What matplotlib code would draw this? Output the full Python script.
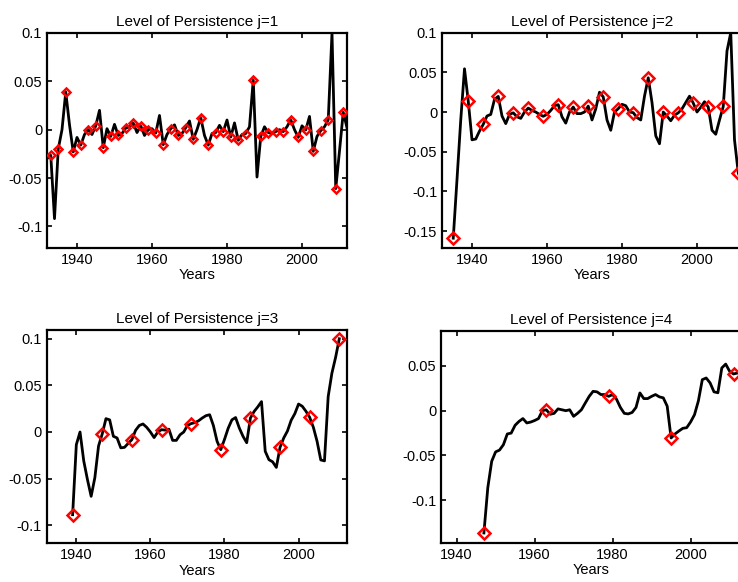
import numpy as np
import matplotlib
matplotlib.use("Agg")
import matplotlib.pyplot as plt

# ---------------- data ----------------
years1 = list(range(1932, 2013))
vals1 = [-0.030, -0.0265, -0.092, -0.020, 0.000, 0.039, 0.005, -0.023, -0.008, -0.016,
         -0.005, 0.000, -0.005, 0.004, 0.020, -0.0186, 0.001, -0.007, 0.0055, -0.006,
         -0.004, 0.0017, 0.003, 0.0068, -0.003, 0.004, -0.006, 0.000, 0.001, -0.0035,
         0.0147, -0.0155, -0.005, 0.001, 0.005, -0.006, -0.004, 0.002, 0.009, -0.010,
         0.000, 0.0124, -0.006, -0.016, -0.004, -0.003, 0.0045, -0.002, 0.010, -0.0076,
         0.007, -0.011, -0.005, -0.004, 0.003, 0.0515, -0.049, -0.007, 0.003, -0.003,
         -0.004, -0.002, 0.000, -0.002, 0.003, 0.0103, 0.000, -0.008, 0.004, -0.0003,
         0.0137, -0.0224, -0.007, -0.001, 0.003, 0.0103, 0.100, -0.061, -0.022, 0.018,
         0.002]

years2 = list(range(1935, 2013))
vals2 = [-0.159, -0.085, -0.010, 0.0545, 0.0138, -0.035, -0.034, -0.024, -0.0155, -0.005,
         -0.003, 0.016, 0.0197, -0.005, -0.0146, -0.003, -0.001, -0.006, -0.008, 0.000,
         0.005, 0.002, 0.000, -0.003, -0.0054, -0.003, 0.002, 0.008, 0.0093, -0.006,
         -0.014, 0.000, 0.0063, -0.002, -0.002, 0.000, 0.0075, -0.010, 0.004, 0.025,
         0.019, -0.010, -0.023, 0.000, 0.0043, 0.0097, 0.008, 0.000, -0.0008, -0.007,
         -0.010, 0.020, 0.0432, 0.012, -0.030, -0.040, 0.000, -0.005, -0.011, -0.004,
         -0.001, 0.004, 0.012, 0.020, 0.0113, 0.000, 0.006, 0.013, 0.0063, -0.023,
         -0.028, -0.010, 0.007, 0.077, 0.100, -0.035, -0.0766, -0.090]

years3 = list(range(1939, 2012))
vals3 = [-0.0887, -0.0136, 0.000, -0.031, -0.051, -0.069, -0.049, -0.015, -0.002, 0.0143,
         0.013, -0.0046, -0.0064, -0.017, -0.0165, -0.0122, -0.0082, 0.0018, 0.007, 0.0086,
         0.005, 0.000, -0.006, 0.000, 0.0025, 0.002, 0.003, -0.009, -0.009, -0.003,
         0.000, 0.007, 0.009, 0.010, 0.012, 0.015, 0.0175, 0.0185, 0.007, -0.010,
         -0.019, -0.008, 0.004, 0.013, 0.0155, 0.0043, -0.0046, -0.0115, 0.015, 0.022,
         0.027, 0.0326, -0.0207, -0.0297, -0.032, -0.038, -0.0165, -0.0064, 0.001, 0.0125,
         0.0197, 0.030, 0.0276, 0.0222, 0.0158, 0.005, -0.010, -0.030, -0.031, 0.038,
         0.063, 0.080, 0.100]

years4 = list(range(1947, 2013))
vals4 = [-0.1365, -0.086, -0.0565, -0.046, -0.044, -0.038, -0.026, -0.025, -0.0163, -0.012,
         -0.0088, -0.0137, -0.0127, -0.011, -0.0088, 0.000, 0.001, -0.004, -0.003, 0.002,
         0.001, 0.000, 0.001, -0.0063, -0.003, 0.001, 0.0086, 0.016, 0.0216, 0.021,
         0.018, 0.018, 0.016, 0.018, 0.0128, 0.0036, -0.003, -0.0036, -0.002, 0.0036,
         0.0198, 0.0135, 0.0135, 0.016, 0.018, 0.0154, 0.0143, 0.005, -0.0305, -0.026,
         -0.0227, -0.0197, -0.019, -0.0126, -0.0045, 0.011, 0.0346, 0.0365, 0.031, 0.021,
         0.020, 0.0477, 0.052, 0.044, 0.041, 0.042]

titles = ["Level of Persistence j=1", "Level of Persistence j=2",
          "Level of Persistence j=3", "Level of Persistence j=4"]
xticks = [1940, 1960, 1980, 2000]
yticks1 = [-0.1, -0.05, 0, 0.05, 0.1]
yticks2 = [-0.15, -0.1, -0.05, 0, 0.05, 0.1]
yticks3 = [-0.1, -0.05, 0, 0.05, 0.1]
yticks4 = [-0.1, -0.05, 0, 0.05]

# ---------------- figure ----------------
plt.rcParams['font.family'] = ['Liberation Sans', 'DejaVu Sans']

W, H = 738, 582
fig = plt.figure(figsize=(W / 100, H / 100), dpi=100)

def pos(left, top, bottom, width=300):
    return [left / W, (H - bottom) / H, width / W, (bottom - top) / H]

panels = [
    dict(rect=pos(47, 33, 248), x=years1, y=vals1, every=2, start=1, ms=4.2,
         xlim=(1932, 2012), ylim=(-0.1224, 0.0995), yt=yticks1, right=True),
    dict(rect=pos(442, 32.7, 247.7), x=years2, y=vals2, every=4, start=0, ms=6.0,
         xlim=(1932, 2012), ylim=(-0.171, 0.0995), yt=yticks2, right=False),
    dict(rect=pos(46.7, 330, 543.3), x=years3, y=vals3, every=8, start=0, ms=6.0,
         xlim=(1932, 2013), ylim=(-0.1194, 0.1094), yt=yticks3, right=True),
    dict(rect=pos(441, 331.3, 543), x=years4, y=vals4, every=16, start=0, ms=6.0,
         xlim=(1936, 1936 + 300 / 3.9), ylim=(-0.1477, 0.0886), yt=yticks4, right=False),
]

def fmt(v):
    if v == 0:
        return "0"
    return "%g" % v

FS = 10.5
for p, title in zip(panels, titles):
    ax = fig.add_axes(p['rect'])
    ax.plot(p['x'], p['y'], color='black', lw=2.0, zorder=2)
    ax.plot(p['x'][p['start']::p['every']], p['y'][p['start']::p['every']],
            linestyle='none', marker='D', ms=p['ms'], mfc='none', mec='red',
            mew=1.8, zorder=3)
    ax.set_xlim(*p['xlim'])
    ax.set_ylim(*p['ylim'])
    ax.set_xticks(xticks)
    ax.set_xticklabels([str(t) for t in xticks])
    ax.set_yticks(p['yt'])
    ax.set_yticklabels([fmt(t) for t in p['yt']])
    ax.tick_params(direction='in', length=3.5, width=1.2, top=True,
                   right=p['right'], labelsize=FS)
    ax.tick_params(axis='x', pad=3.6)
    ax.tick_params(axis='y', pad=3.5)
    for s in ax.spines.values():
        s.set_linewidth(1.6)
    ax.set_title(title, fontsize=11, pad=5)
    ax.set_xlabel("Years", fontsize=FS, labelpad=1)

fig.savefig("out.png", dpi=100)
